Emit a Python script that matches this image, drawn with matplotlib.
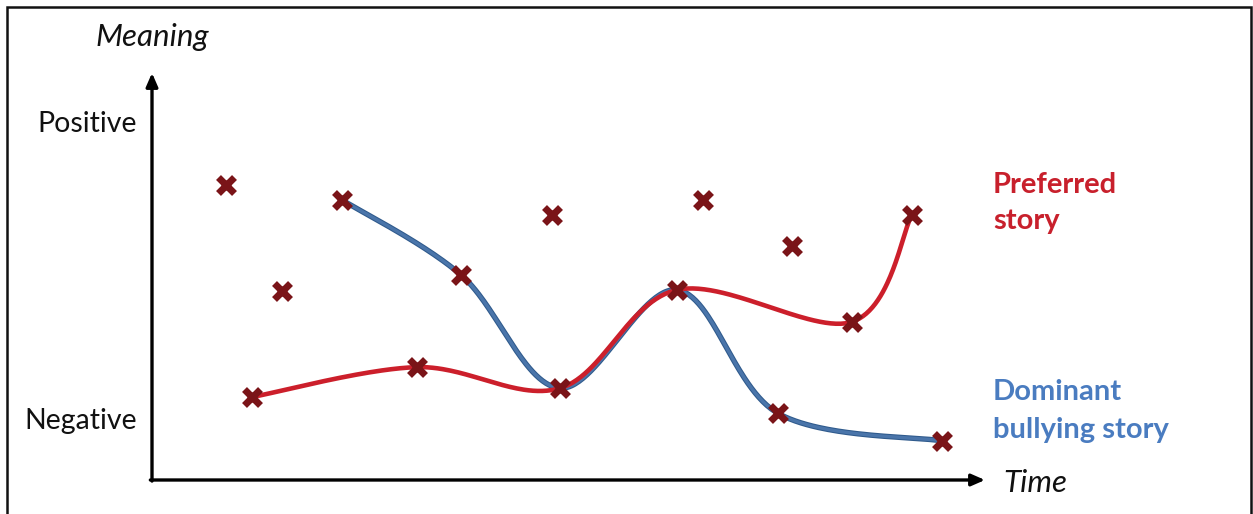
import numpy as np
import matplotlib
matplotlib.use("Agg")
import matplotlib.pyplot as plt
from matplotlib.patches import Rectangle

plt.rcParams['font.family'] = ['Lato', 'DejaVu Sans']

# ---- data (time, meaning) ----
scatter_x = [0.89, 1.56, 2.28, 3.71, 4.80, 4.90, 6.61, 6.30, 7.68, 9.12, 8.40, 7.51, 9.48, 1.20, 3.18]
scatter_y = [8.29, 5.31, 7.87, 5.76, 7.44, 2.58, 7.87, 5.34, 6.57, 7.44, 4.44, 1.88, 1.10, 2.33, 3.17]

preferred_x = [1.20, 3.18, 4.90, 6.30, 8.40, 9.12]
preferred_y = [2.33, 3.17, 2.58, 5.34, 4.44, 7.44]

dominant_x = [2.28, 3.71, 4.90, 6.30, 7.51, 9.48]
dominant_y = [7.87, 5.76, 2.58, 5.34, 1.88, 1.10]

y_labels = ["Negative", "Positive"]
y_label_pos = [1.66, 10.0]

W, H = 1253, 514
fig = plt.figure(figsize=(W / 100, H / 100), dpi=100)
fig.patch.set_facecolor('white')

X0, Y0 = 152, 480
XSCALE, YSCALE = 83.3, 35.6
XMAX = 10.0
YMAX = (Y0 - 73) / YSCALE
ax = fig.add_axes([X0 / W, (H - Y0) / H, XMAX * XSCALE / W, YMAX * YSCALE / H])
ax.set_xlim(0, XMAX)
ax.set_ylim(0, YMAX)
ax.axis('off')


def catmull_rom(xs, ys, n=60):
    # smoothing curve through the points (screen-scaled)
    P = np.column_stack([np.array(xs) * XSCALE, np.array(ys) * YSCALE])
    P = np.vstack([P[0], P, P[-1]])
    out = []
    for i in range(1, len(P) - 2):
        p0, p1, p2, p3 = P[i - 1], P[i], P[i + 1], P[i + 2]
        t = np.linspace(0, 1, n)[:, None]
        seg = 0.5 * ((2 * p1) + (-p0 + p2) * t + (2 * p0 - 5 * p1 + 4 * p2 - p3) * t ** 2
                     + (-p0 + 3 * p1 - 3 * p2 + p3) * t ** 3)
        out.append(seg)
    out = np.vstack(out)
    return out[:, 0] / XSCALE, out[:, 1] / YSCALE


bx, by = catmull_rom(dominant_x, dominant_y)
rx, ry = catmull_rom(preferred_x, preferred_y)
ax.plot(bx, by, color='#2f5a8c', lw=3.9, solid_capstyle='round', zorder=2, clip_on=False)
ax.plot(bx, by, color='#4a75aa', lw=2.4, solid_capstyle='round', zorder=2.1, clip_on=False)
ax.plot(rx, ry, color='#cc1f2b', lw=3.3, solid_capstyle='round', zorder=3, clip_on=False)

ax.plot(scatter_x, scatter_y, linestyle='none', marker='x', markersize=11.5,
        markeredgewidth=5, color='#7a1418', zorder=4, clip_on=False)

# axes arrows
arrow_kw = dict(arrowstyle='-|>,head_length=0.8,head_width=0.35', color='black', lw=2.4,
                shrinkA=0, shrinkB=0)
ax.annotate('', xy=(XMAX, 0), xytext=(-0.02, 0), arrowprops=arrow_kw, annotation_clip=False)
ax.annotate('', xy=(0, YMAX), xytext=(0, -0.03), arrowprops=arrow_kw, annotation_clip=False)

# axis texts
for lab, yp in zip(y_labels, y_label_pos):
    ax.text(-0.18, yp, lab, ha='right', va='center', fontsize=20.5, color='#111111')
fig.text(152 / W, 1 - 37 / H, 'Meaning', ha='center', va='center', fontsize=22.5,
         style='italic', color='#111111')
fig.text(1003 / W, 1 - 483 / H, 'Time', ha='left', va='center', fontsize=22.5,
         style='italic', color='#111111')

fig.text(993 / W, 1 - 185 / H, 'Preferred', ha='left', va='center', fontsize=21,
         fontweight='bold', color='#c8202c')
fig.text(993 / W, 1 - 221 / H, 'story', ha='left', va='center', fontsize=21,
         fontweight='bold', color='#c8202c')
fig.text(993 / W, 1 - 392 / H, 'Dominant', ha='left', va='center', fontsize=21,
         fontweight='bold', color='#4a7cc0')
fig.text(993 / W, 1 - 430 / H, 'bullying story', ha='left', va='center', fontsize=21,
         fontweight='bold', color='#4a7cc0')

# frame
fig.add_artist(Rectangle((7 / W, -0.05), (1251 - 7) / W, (H - 7) / H + 0.05,
                         transform=fig.transFigure, fill=False, edgecolor='#111111', lw=1.8))

fig.savefig('out.png', dpi=100, facecolor='white')
